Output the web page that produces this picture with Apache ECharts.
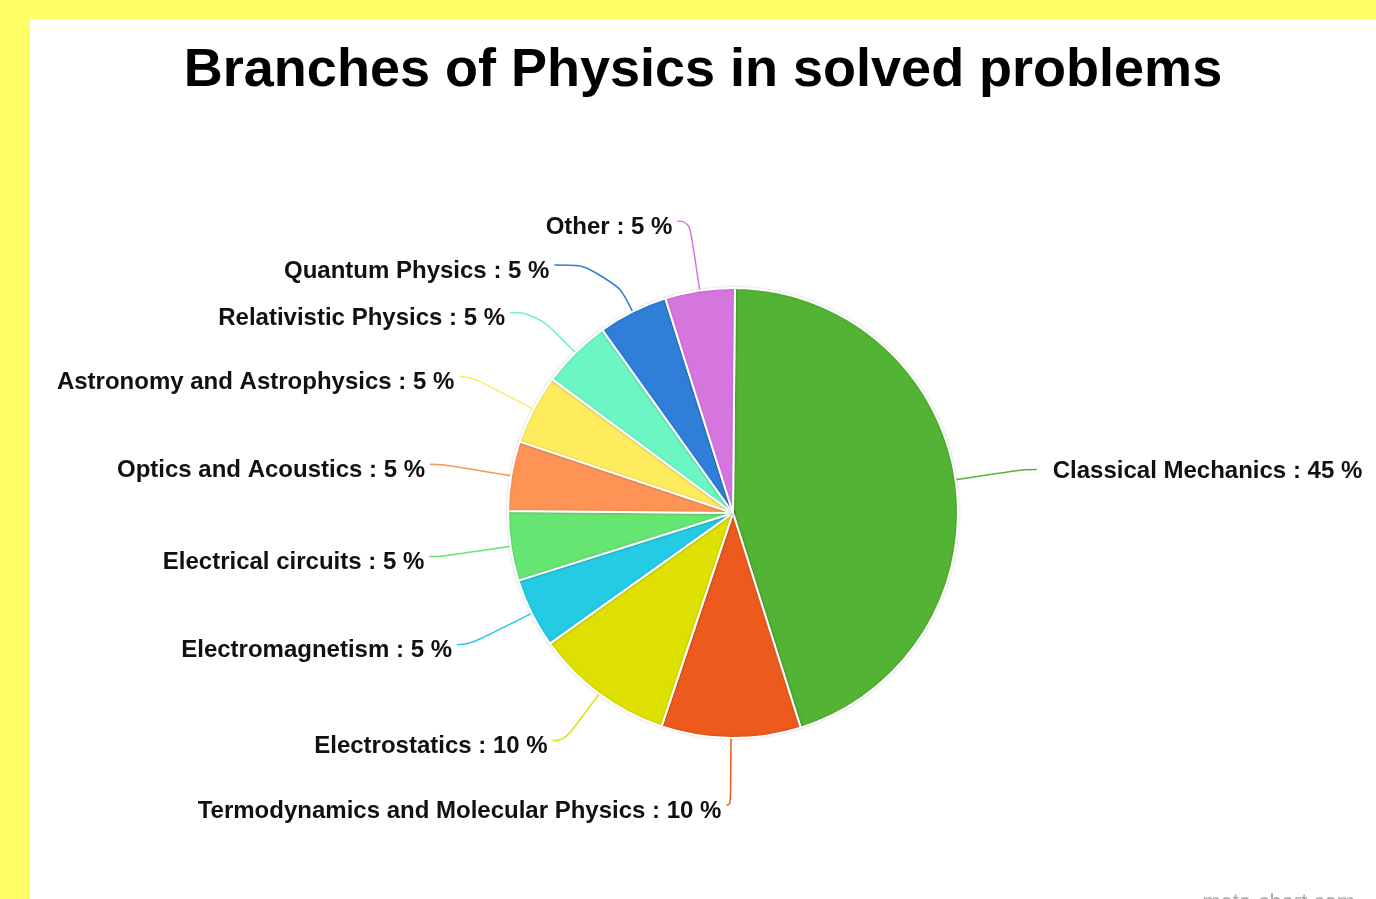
<!DOCTYPE html>
<html>
<head>
<meta charset="utf-8">
<script src="https://cdn.jsdelivr.net/npm/echarts@6/dist/echarts.min.js"></script>
<style>
  html, body { margin: 0; padding: 0; width: 1376px; height: 899px; background: #ffff66; overflow: hidden; }
  #chart { position: absolute; left: 30px; top: 19px; width: 1346px; height: 880px; background: #fff; }
</style>
</head>
<body>
<div id="chart"></div>
<script>
const categories = [
  'Classical Mechanics',
  'Termodynamics and Molecular Physics',
  'Electrostatics',
  'Electromagnetism',
  'Electrical circuits',
  'Optics and Acoustics',
  'Astronomy and Astrophysics',
  'Relativistic Physics',
  'Quantum Physics',
  'Other'
];
const values = [45, 10, 10, 5, 5, 5, 5, 5, 5, 5];
const colors = ['#52b334', '#ec5a1d', '#dde000', '#25cae4', '#66e572',
  '#fe9356', '#feec5e', '#6cf6c3', '#2f7ed8', '#d576df'];

// connector tweaks so the crowded labels spread out like the original
const lineLengths = [70, 67, 58, 70, 70, 70, 70, 56, 52, 70];
const lineLengths2 = [12, 4, 12, 12, 12, 12, 12, 26, 55, 12];

const chart = echarts.init(document.getElementById('chart'));

var option = {
  backgroundColor: '#fff',
  title: {
    text: 'Branches of Physics in solved problems',
    left: 'center',
    top: 20,
    textStyle: {
      color: '#000',
      fontFamily: 'Liberation Sans',
      fontWeight: 'bold',
      fontSize: 54
    }
  },
  graphic: [{
    type: 'text',
    right: 21,
    top: 873,
    style: {
      text: 'meta-chart.com',
      fill: '#aaa',
      font: '22px "Liberation Sans"'
    }
  }],
  series: [{
    type: 'pie',
    center: [703, 494],
    radius: 225,
    // a hair under 90 so the bottom slice's label falls to the left like the original
    startAngle: 89.5,
    clockwise: true,
    avoidLabelOverlap: true,
    data: categories.map((name, i) => {
      const item = {
        name: name,
        value: values[i],
        itemStyle: { color: colors[i] },
        labelLine: { length: lineLengths[i], length2: lineLengths2[i] }
      };
      if (i === 0) item.label = { distanceToLabelLine: 16 };
      return item;
    }),
    itemStyle: {
      borderColor: '#fff',
      borderWidth: 2,
      shadowBlur: 3,
      shadowColor: 'rgba(0,0,0,0.15)'
    },
    label: {
      show: true,
      position: 'outside',
      formatter: '{b} : {c} %',
      color: '#111',
      fontFamily: 'Liberation Sans',
      fontWeight: 'bold',
      fontSize: 24,
      distanceToLabelLine: 5
    },
    // text sits a little below the connector end in the original
    labelLayout: function (params) {
      return { dy: params.dataIndex === 0 ? 2 : 6 };
    },
    labelLine: {
      show: true,
      length: 70,
      length2: 12,
      smooth: 0.5,
      lineStyle: { width: 1.5 }
    },
    emphasis: { disabled: true }
  }]
};

chart.setOption(option);
</script>
</body>
</html>
